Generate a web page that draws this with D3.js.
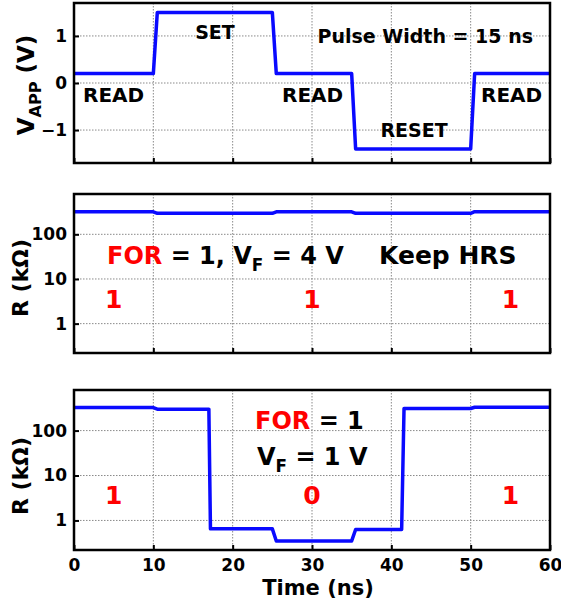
<!DOCTYPE html>
<html>
<head>
<meta charset="utf-8">
<script src="https://cdn.jsdelivr.net/npm/d3@7"></script>
<style>
  body { margin: 0; background: #fff; }
  svg text { font-family: "DejaVu Sans", sans-serif; font-weight: bold; }
</style>
</head>
<body>
<svg width="561" height="605"></svg>
<script>
// Shared time axis (ns).
var timeTicks = [0, 10, 20, 30, 40, 50, 60];

// Applied voltage pulse train (V).
var pulseTime = [0, 10, 10.5, 25, 25.5, 35, 35.5, 50, 50.5, 60];
var pulseVolt = [0.2, 0.2, 1.5, 1.5, 0.2, 0.2, -1.4, -1.4, 0.2, 0.2];
var voltTicks = [-1, 0, 1];

// Resistance with VF = 4 V, device keeps HRS (kOhm).
var keepTime = [0, 10, 10.5, 25, 25.5, 35, 35.5, 50, 50.5, 60];
var keepRes = [320, 320, 296, 296, 320, 320, 296, 296, 322, 322];

// Resistance with VF = 1 V (kOhm).
var flipTime = [0, 10, 10.5, 17, 17.2, 25, 25.5, 35, 35.5, 41.3, 41.6, 50, 50.5, 60];
var flipRes = [325, 325, 300, 300, 0.65, 0.65, 0.35, 0.35, 0.63, 0.63, 310, 310, 330, 330];
var resTicks = [1, 10, 100];

// Read-out bits.
var bitTime = [5, 30, 55];
var keepBits = ["1", "1", "1"];
var flipBits = ["1", "0", "1"];

var svg = d3.select("svg");
var left = 74, right = 550;
var blue = "#0a0aff", red = "#ff0000";

var x = d3.scaleLinear().domain([0, 60]).range([left, right]);

// Panels.
var panels = [
    { top: 3, bottom: 163, scale: d3.scaleLinear().domain([-1.7, 1.7]), ticks: voltTicks,
      fmt: d3.format("d"), xs: pulseTime, ys: pulseVolt },
    { top: 194, bottom: 353, scale: d3.scaleLog().domain([0.22, 800]), ticks: resTicks,
      fmt: d3.format("d"), xs: keepTime, ys: keepRes },
    { top: 390, bottom: 550, scale: d3.scaleLog().domain([0.22, 800]), ticks: resTicks,
      fmt: d3.format("d"), xs: flipTime, ys: flipRes }
];

panels.forEach(function (p, i) {
    var y = p.scale.range([p.bottom, p.top]);
    var g = svg.append("g");

    // dotted grid
    g.selectAll("line.vg").data(timeTicks.slice(1, -1)).enter().append("line")
        .attr("x1", x).attr("x2", x).attr("y1", p.top).attr("y2", p.bottom)
        .attr("stroke", "#8a8a8a").attr("stroke-width", 1).attr("stroke-dasharray", "1.5,1.5");
    g.selectAll("line.hg").data(p.ticks).enter().append("line")
        .attr("x1", left).attr("x2", right).attr("y1", y).attr("y2", y)
        .attr("stroke", "#8a8a8a").attr("stroke-width", 1).attr("stroke-dasharray", "1.5,1.5");

    // trace
    var line = d3.line()
        .x(function (d, k) { return x(p.xs[k]); })
        .y(function (d) { return y(d); });
    g.append("path").datum(p.ys)
        .attr("d", line)
        .attr("fill", "none").attr("stroke", blue).attr("stroke-width", 3.5)
        .attr("stroke-linejoin", "round");

    // axes with inward ticks
    var xa = d3.axisBottom(x).tickValues(timeTicks).tickSizeInner(-5).tickSizeOuter(0).tickPadding(9);
    if (i < 2) xa.tickFormat("");
    var xg = g.append("g").attr("transform", "translate(0," + p.bottom + ")").call(xa);
    var ya = d3.axisLeft(y).tickValues(p.ticks).tickFormat(p.fmt).tickSizeInner(-5).tickSizeOuter(0).tickPadding(7);
    var yg = g.append("g").attr("transform", "translate(" + left + ",0)").call(ya);
    [xg, yg].forEach(function (a) {
        a.select(".domain").remove();
        a.selectAll(".tick line").attr("stroke", "#000").attr("stroke-width", 2);
        a.selectAll(".tick text").attr("font-size", 17).attr("fill", "#000")
            .style("font-family", "'DejaVu Sans', sans-serif").style("font-weight", "bold");
    });

    // frame
    g.append("rect")
        .attr("x", left).attr("y", p.top)
        .attr("width", right - left).attr("height", p.bottom - p.top)
        .attr("fill", "none").attr("stroke", "#000").attr("stroke-width", 2.5);
});

// text with optional subscripts and colours
function label(px, py, parts, size, anchor) {
    var t = svg.append("text").attr("x", px).attr("y", py)
        .attr("font-size", size).attr("text-anchor", anchor || "start");
    var shift = 0;
    parts.forEach(function (s) {
        var sp = t.append("tspan").text(s.t).attr("fill", s.c || "#000");
        if (s.sub) {
            sp.attr("font-size", size * 0.7).attr("dy", size * 0.3);
            shift = size * 0.3;
        } else if (shift) {
            sp.attr("dy", -shift);
            shift = 0;
        }
    });
    return t;
}

// top panel labels
label(215, 39, [{ t: "SET" }], 19, "middle");
label(83, 102, [{ t: "READ" }], 20);
label(282, 102, [{ t: "READ" }], 20);
label(481, 102, [{ t: "READ" }], 20);
label(414, 137, [{ t: "RESET" }], 19, "middle");
label(533, 43, [{ t: "Pulse Width = 15 ns" }], 19, "end");

// middle panel labels
label(107, 264, [{ t: "FOR", c: red }, { t: " = 1, V" }, { t: "F", sub: true }, { t: " = 4 V" }], 24);
label(379, 264, [{ t: "Keep HRS" }], 25);
bitTime.forEach(function (b, k) {
    label(x(b), 308, [{ t: keepBits[k], c: red }], 25, "middle");
});

// bottom panel labels
label(255, 429, [{ t: "FOR", c: red }, { t: " = 1" }], 24);
label(257, 465, [{ t: "V" }, { t: "F", sub: true }, { t: " = 1 V" }], 24);
bitTime.forEach(function (b, k) {
    label(x(b), 504, [{ t: flipBits[k], c: red }], 25, "middle");
});

// axis titles
label(318, 595, [{ t: "Time (ns)" }], 21, "middle");
label(0, 0, [{ t: "V" }, { t: "APP", sub: true }, { t: " (V)" }], 23, "middle")
    .attr("transform", "translate(34,85) rotate(-90)");
label(0, 0, [{ t: "R (k\u03a9)" }], 22, "middle")
    .attr("transform", "translate(28,278) rotate(-90)");
label(0, 0, [{ t: "R (k\u03a9)" }], 22, "middle")
    .attr("transform", "translate(28,476) rotate(-90)");
</script>
</body>
</html>
